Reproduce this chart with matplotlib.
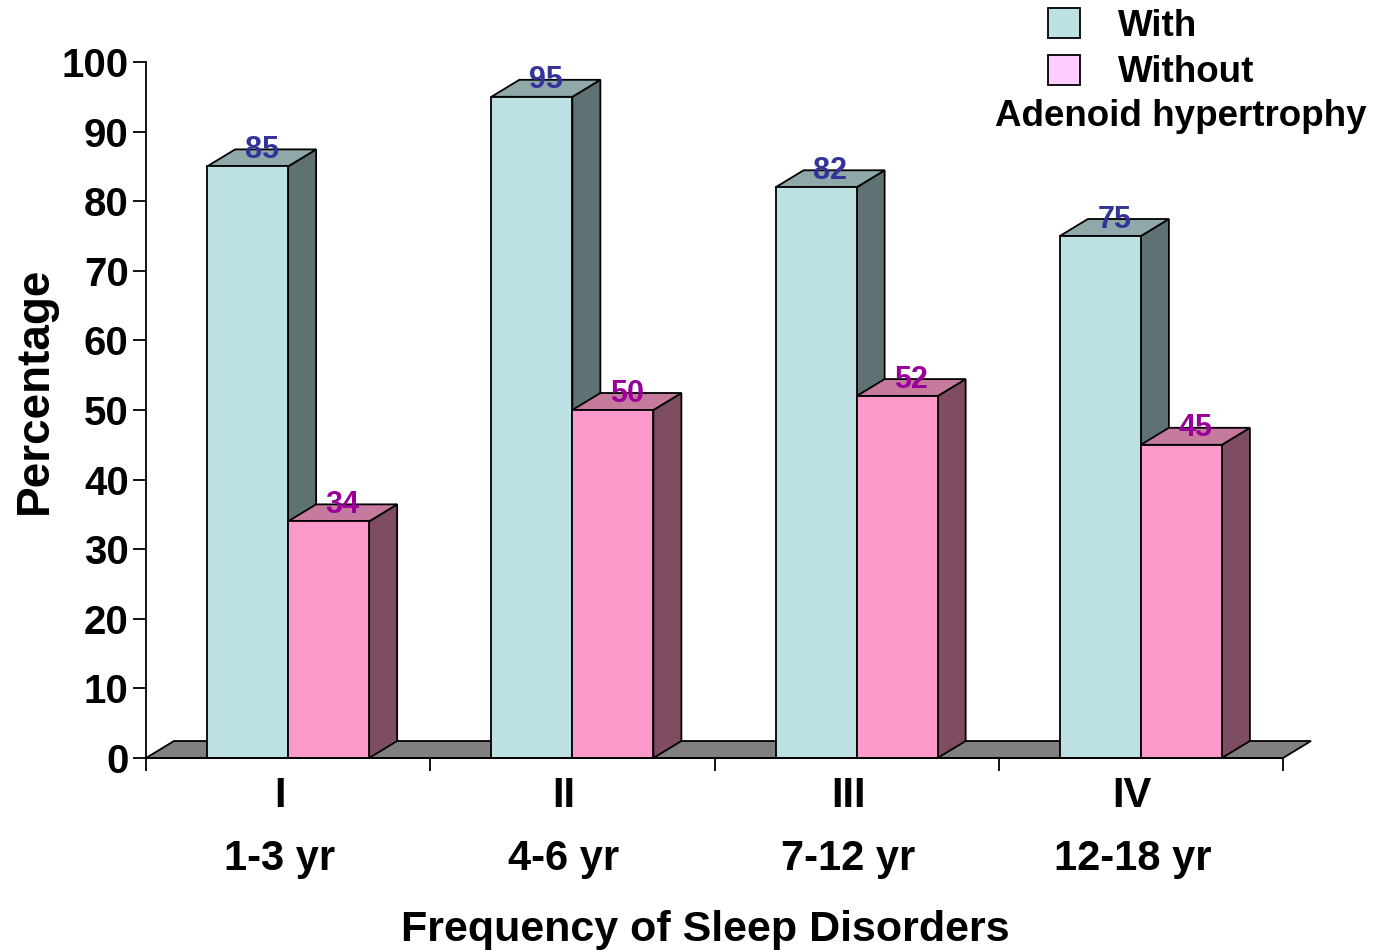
import matplotlib
matplotlib.use('Agg')
import matplotlib.pyplot as plt
from matplotlib.patches import Polygon, Rectangle

plt.rcParams['font.family'] = ['Liberation Sans', 'DejaVu Sans']
plt.rcParams['font.weight'] = 'bold'

# data
groups = ['I', 'II', 'III', 'IV']
ages = ['1-3 yr', '4-6 yr', '7-12 yr', '12-18 yr']
with_ah = [85, 95, 82, 75]
without_ah = [34, 50, 52, 45]
series_names = ['With', 'Without']

# colours (front, top, side)
WITH_COLS = ('#bde0e3', '#8fa9ab', '#5e7274')
WITHOUT_COLS = ('#fe9acb', '#c57a9e', '#7f4d62')
LEGEND_COLS = ('#bde0e3', '#ffccff')
LABEL_COLS = ('#333399', '#990099')

W = 1378
H = 950
fig = plt.figure(figsize=(W / 100, H / 100), dpi=100)
ax = fig.add_axes([146 / W, (H - 758) / H, (1283 - 146) / W, (758 - 62) / H])
ax.set_xlim(0, len(groups))
ax.set_ylim(0, 100)

# depth of the fake 3d in data units
px_x = len(groups) / (1283 - 146)
px_y = 100 / (758 - 62)
dx = 28 * px_x
dy = 17 * px_y
bw = 0.285
LW = 1.3


def box(x0, x1, top, cols, z):
  side = [(x1, 0), (x1 + dx, dy), (x1 + dx, top + dy), (x1, top)]
  lid = [(x0, top), (x1, top), (x1 + dx, top + dy), (x0 + dx, top + dy)]
  front = [(x0, 0), (x1, 0), (x1, top), (x0, top)]
  for pts, c in ((side, cols[2]), (lid, cols[1]), (front, cols[0])):
    ax.add_patch(Polygon(pts, closed=True, facecolor=c, edgecolor='black',
                         linewidth=LW, clip_on=False, zorder=z))


# floor
ax.add_patch(Polygon([(0, 0), (len(groups), 0), (len(groups) + dx, dy), (dx, dy)],
                     closed=True, facecolor='#808080', edgecolor='black',
                     linewidth=LW, clip_on=False, zorder=1))

for i in range(len(groups)):
  c = i + 0.5
  box(c - bw, c, with_ah[i], WITH_COLS, 2 + i * 2)
  box(c, c + bw, without_ah[i], WITHOUT_COLS, 3 + i * 2)
  ax.text(c - bw / 2 + dx / 2, with_ah[i] + dy / 2, str(with_ah[i]),
          ha='center', va='baseline', fontsize=22, color=LABEL_COLS[0],
          zorder=20)
  ax.text(c + bw / 2 + dx / 2, without_ah[i] + dy / 2, str(without_ah[i]),
          ha='center', va='baseline', fontsize=22, color=LABEL_COLS[1],
          zorder=20)

for s in ['top', 'right']:
  ax.spines[s].set_visible(False)
for s in ['left', 'bottom']:
  ax.spines[s].set_linewidth(LW)
  ax.spines[s].set_zorder(30)

ax.set_yticks(range(0, 101, 10))
ax.tick_params(axis='y', direction='out', length=9.5, width=LW,
               labelsize=29, pad=3)
for t in ax.get_yticklabels():
  t.set_fontweight('bold')

ax.set_xticks(range(len(groups) + 1))
ax.set_xticklabels([])
ax.tick_params(axis='x', which='major', direction='out', length=9, width=LW)
ax.set_xticks([i + 0.47 for i in range(len(groups))], minor=True)
ax.set_xticklabels([g + '\n' + a for g, a in zip(groups, ages)], minor=True)
ax.tick_params(axis='x', which='minor', length=0, labelsize=30, pad=13)
for t in ax.get_xticklabels(minor=True):
  t.set_linespacing(1.75)
  t.set_fontweight('bold')

ax.set_xlabel('Frequency of Sleep Disorders', fontsize=31, fontweight='bold')
ax.xaxis.set_label_coords(0.492, -0.218)
ax.set_ylabel('Percentage', fontsize=33, fontweight='bold')
ax.yaxis.set_label_coords(-0.078, 0.528)

# legend
for k, name in enumerate(series_names):
  y0 = 8 + k * 47
  fig.patches.append(Rectangle((1048 / W, (H - y0 - 30) / H), 32 / W, 30 / H,
                               transform=fig.transFigure, facecolor=LEGEND_COLS[k],
                               edgecolor='black', linewidth=LW))
  fig.text(1118 / W, (H - y0 - 18) / H, name, fontsize=26.5, fontweight='bold',
           ha='left', va='center')
fig.text(1181 / W, (H - 116) / H, 'Adenoid hypertrophy', fontsize=26.5,
         fontweight='bold', ha='center', va='center')

fig.savefig('out.png', dpi=100)
